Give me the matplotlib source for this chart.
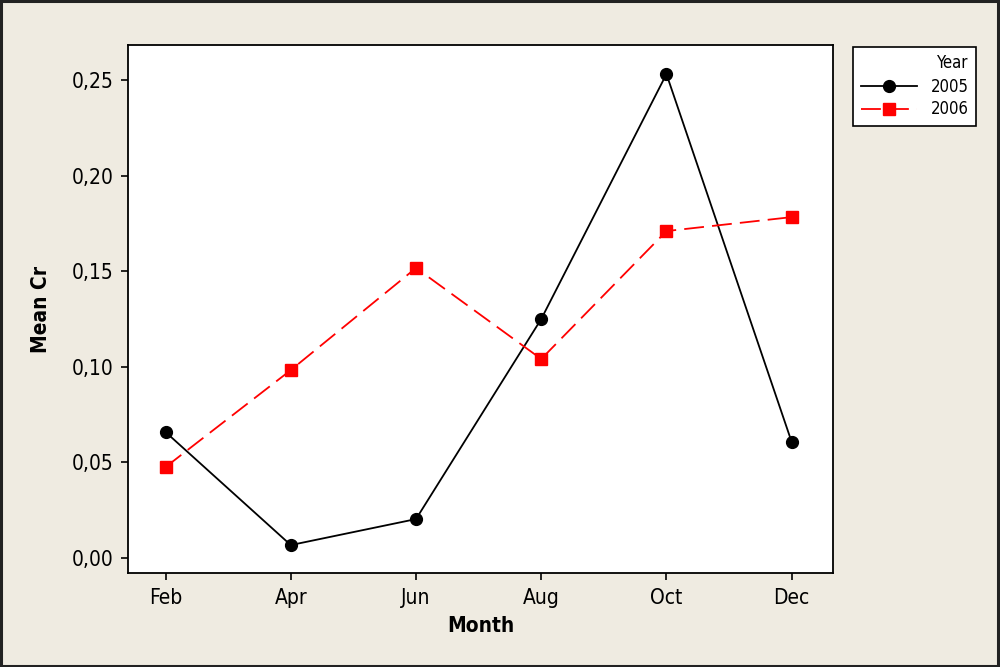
import matplotlib
matplotlib.use("Agg")
import matplotlib.pyplot as plt
from matplotlib.patches import Rectangle
from matplotlib.ticker import FuncFormatter

months = ["Feb", "Apr", "Jun", "Aug", "Oct", "Dec"]
cr_2005 = [0.0659, 0.0068, 0.0204, 0.1250, 0.2531, 0.0607]
cr_2006 = [0.0476, 0.0983, 0.1517, 0.1041, 0.1710, 0.1783]
y_ticks = [0.00, 0.05, 0.10, 0.15, 0.20, 0.25]

bg = "#efebe1"
plt.rcParams["font.family"] = ["DejaVu Sans"]
plt.rcParams["font.stretch"] = "condensed"

fig = plt.figure(figsize=(10, 6.67), dpi=100, facecolor=bg)
ax = fig.add_axes([0.128, 1 - 573 / 667, (833 - 128) / 1000, (573 - 45) / 667])
ax.set_facecolor("white")

x = list(range(len(months)))
l1, = ax.plot(x, cr_2005, color="black", lw=1.3, marker="o", ms=8.5,
              label="2005")
l2, = ax.plot(x, cr_2006, color="red", lw=1.3, ls=(0, (11, 4.5)), marker="s",
              ms=8, label="2006")

ax.set_xlim(-0.3, 5.33)
ax.set_ylim(-0.0078, 0.2683)
ax.set_xticks(x)
ax.set_xticklabels(months)
ax.set_yticks(y_ticks)
ax.yaxis.set_major_formatter(FuncFormatter(lambda v, p: f"{v:.2f}".replace(".", ",")))
ax.tick_params(direction="out", length=5, width=1.2, labelsize=15, pad=5.5)
for s in ax.spines.values():
    s.set_linewidth(1.3)

ax.set_xlabel("Month", fontsize=15, fontweight="bold", labelpad=6)
ax.set_ylabel("Mean Cr", fontsize=15, fontweight="bold", labelpad=15)

leg = fig.legend(handles=[l1, l2], title="Year", loc="upper left",
                 bbox_to_anchor=(853 / 1000, 1 - 47 / 667), frameon=True,
                 fontsize=12, title_fontsize=12, alignment="right",
                 handlelength=3.4, borderpad=0.45, labelspacing=0.3,
                 borderaxespad=0, fancybox=False, edgecolor="black",
                 facecolor="white", framealpha=1)
leg.get_frame().set_linewidth(1.2)

fig.patches.append(Rectangle((0.001, 0.002), 0.997, 0.996, transform=fig.transFigure,
                             fill=False, edgecolor="#222222", lw=2.2))

fig.savefig("out.png", dpi=100, facecolor=bg)
